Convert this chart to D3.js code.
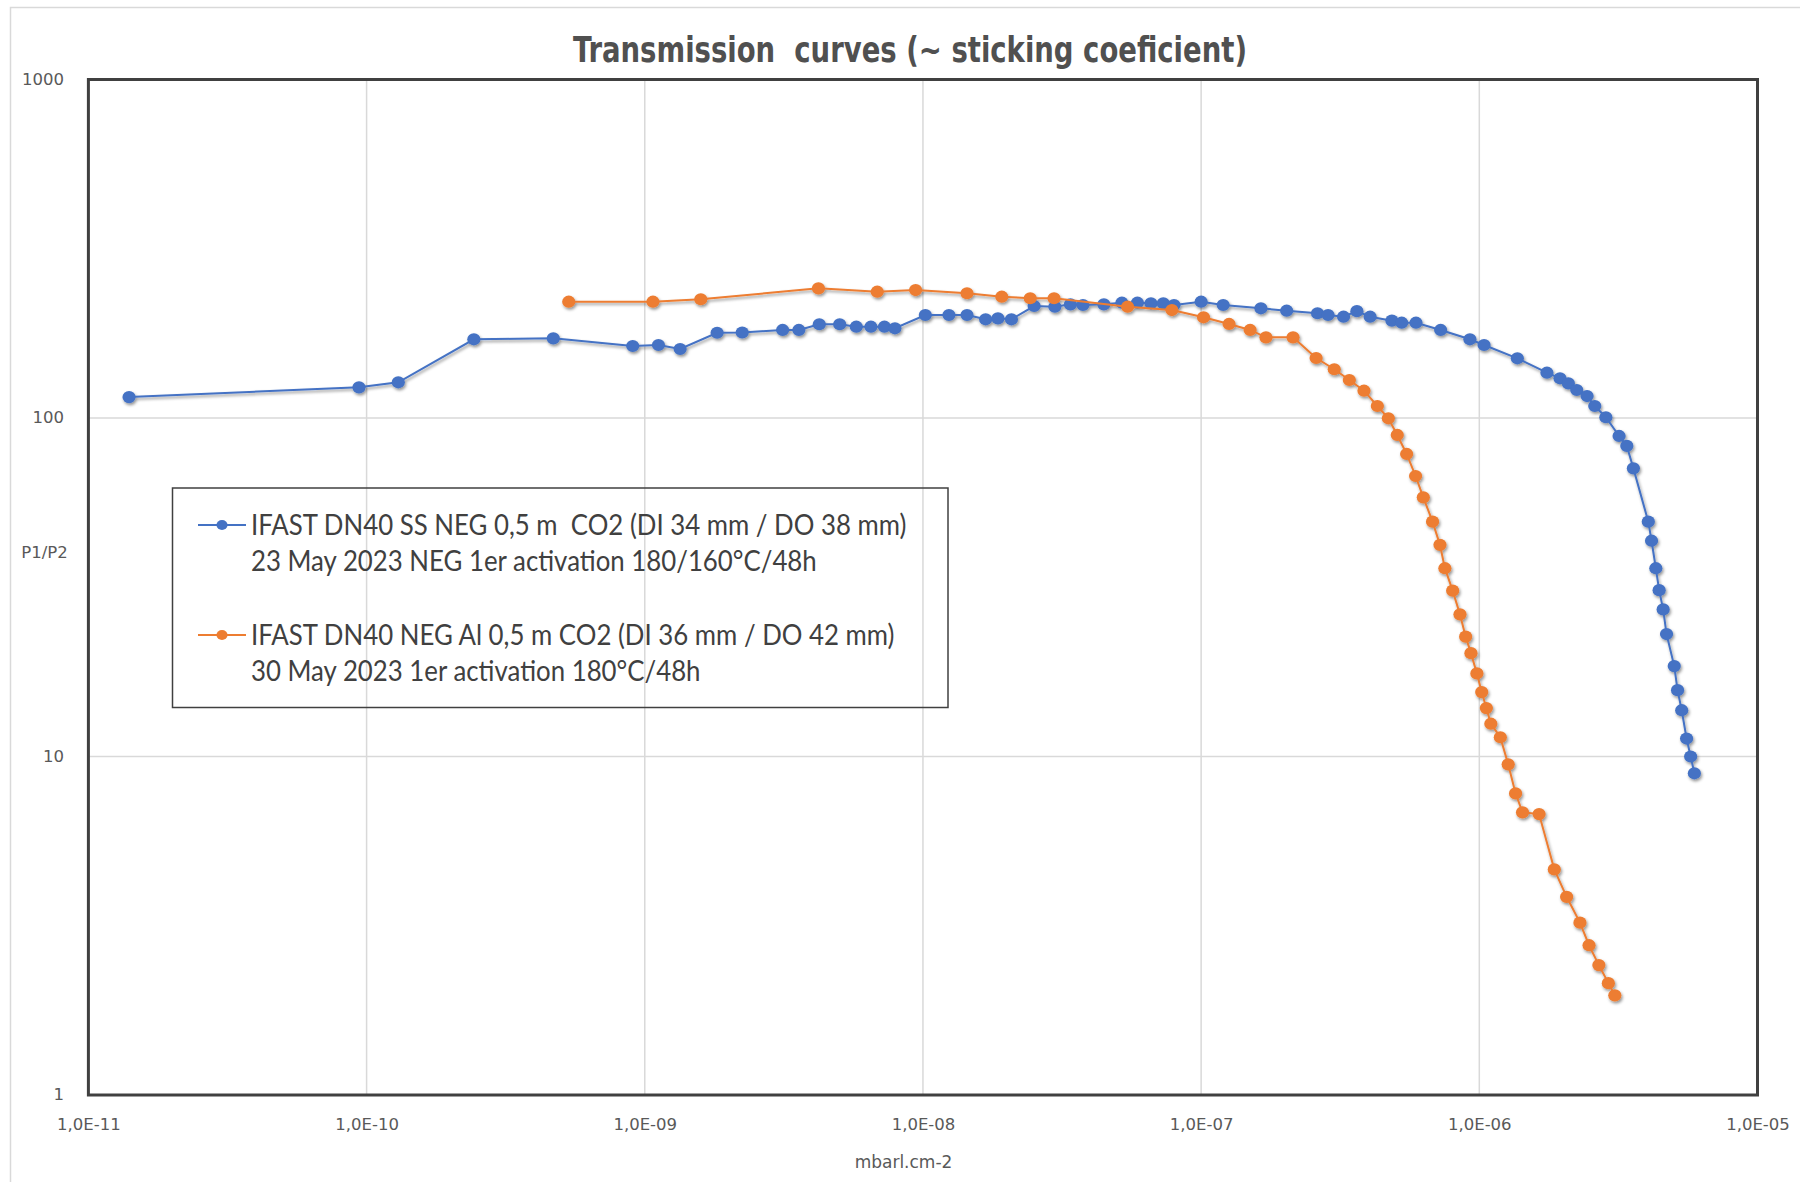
<!DOCTYPE html>
<html>
<head>
<meta charset="utf-8">
<script src="https://cdn.jsdelivr.net/npm/d3@7"></script>
<style>
  html, body { margin: 0; padding: 0; background: #ffffff; }
  svg { display: block; }
</style>
</head>
<body>
<svg id="chart" width="1800" height="1182"></svg>
<script>
// ---- data -------------------------------------------------------------
const titleText = "Transmission  curves (~ sticking coeficient)";
const xAxisTitle = "mbarl.cm-2";
const yAxisTitle = "P1/P2";

const xTicks = [1e-11, 1e-10, 1e-9, 1e-8, 1e-7, 1e-6, 1e-5];
const xTickLabels = ["1,0E-11", "1,0E-10", "1,0E-09", "1,0E-08", "1,0E-07", "1,0E-06", "1,0E-05"];
const yTicks = [1, 10, 100, 1000];
const yTickLabels = ["1", "10", "100", "1000"];

const seriesNames = ["ssNeg", "alNeg"];
const legendLines = [
  ["IFAST DN40 SS NEG 0,5 m  CO2 (DI 34 mm / DO 38 mm)", "23 May 2023 NEG 1er activation 180/160°C/48h"],
  ["IFAST DN40 NEG Al 0,5 m CO2 (DI 36 mm / DO 42 mm)", "30 May 2023 1er activation 180°C/48h"]
];
const seriesColors = ["#4472C4", "#ED7D31"];

// SS NEG tube: injected quantity (mbar.l.cm-2) and P1/P2
const ssNegX = [1.40e-11, 9.39e-11, 1.30e-10, 2.43e-10, 4.69e-10, 9.05e-10, 1.12e-9, 1.34e-9,
  1.82e-9, 2.24e-9, 3.13e-9, 3.58e-9, 4.24e-9, 5.02e-9, 5.76e-9, 6.50e-9, 7.27e-9, 7.93e-9,
  1.02e-8, 1.24e-8, 1.44e-8, 1.68e-8, 1.86e-8, 2.08e-8, 2.51e-8, 2.98e-8, 3.39e-8, 3.76e-8,
  4.47e-8, 5.19e-8, 5.90e-8, 6.60e-8, 7.31e-8, 7.99e-8, 1.00e-7, 1.20e-7, 1.64e-7, 2.03e-7,
  2.62e-7, 2.86e-7, 3.25e-7, 3.63e-7, 4.05e-7, 4.85e-7, 5.26e-7, 5.92e-7, 7.26e-7, 9.25e-7,
  1.04e-6, 1.37e-6, 1.75e-6, 1.95e-6, 2.09e-6, 2.24e-6, 2.44e-6, 2.60e-6, 2.85e-6, 3.18e-6,
  3.39e-6, 3.58e-6, 4.05e-6, 4.16e-6, 4.31e-6, 4.43e-6, 4.58e-6, 4.71e-6, 5.02e-6, 5.16e-6,
  5.34e-6, 5.56e-6, 5.75e-6, 5.93e-6];
const ssNegY = [115.3, 123.2, 127.5, 170.8, 171.9, 163.2, 164.3, 159.9,
  178.6, 178.9, 182.0, 182.0, 189.2, 189.2, 186.1, 186.1, 186.1, 184.1,
  201.5, 201.5, 201.5, 195.7, 197.0, 195.7, 214.2, 213.2, 216.7, 215.7,
  216.7, 219.1, 219.1, 218.2, 218.2, 215.7, 220.6, 215.7, 210.9, 207.5,
  203.9, 201.5, 199.2, 206.8, 199.2, 193.9, 191.2, 191.2, 182.0, 170.8,
  164.3, 150.1, 136.1, 131.0, 126.6, 121.0, 116.1, 108.5, 100.5, 88.5,
  82.7, 71.0, 49.4, 43.4, 36.0, 31.0, 27.2, 23.0, 18.5, 15.7,
  13.7, 11.3, 10.0, 8.92];

// Al NEG tube
const alNegX = [5.33e-10, 1.07e-9, 1.59e-9, 4.21e-9, 6.85e-9, 9.41e-9, 1.44e-8, 1.92e-8,
  2.43e-8, 2.96e-8, 5.44e-8, 7.85e-8, 1.02e-7, 1.26e-7, 1.50e-7, 1.71e-7, 2.14e-7, 2.59e-7,
  3.01e-7, 3.41e-7, 3.85e-7, 4.30e-7, 4.71e-7, 5.07e-7, 5.48e-7, 5.90e-7, 6.29e-7, 6.79e-7,
  7.22e-7, 7.52e-7, 8.02e-7, 8.52e-7, 8.93e-7, 9.33e-7, 9.80e-7, 1.02e-6, 1.06e-6, 1.10e-6,
  1.19e-6, 1.27e-6, 1.35e-6, 1.43e-6, 1.64e-6, 1.86e-6, 2.06e-6, 2.30e-6, 2.48e-6, 2.69e-6,
  2.91e-6, 3.07e-6];
const alNegY = [220.6, 220.6, 224.3, 241.6, 236.1, 238.8, 233.6, 228.2,
  225.8, 225.8, 213.2, 208.4, 198.4, 189.6, 182.0, 173.1, 173.1, 150.4,
  139.3, 129.5, 120.4, 108.5, 99.8, 89.1, 78.3, 67.4, 58.3, 49.4,
  42.2, 36.0, 30.9, 26.3, 22.6, 20.2, 17.6, 15.5, 13.9, 12.5,
  11.4, 9.48, 7.78, 6.84, 6.76, 4.64, 3.85, 3.23, 2.77, 2.42,
  2.14, 1.97];

// ---- layout -----------------------------------------------------------
const W = 1800, H = 1182;
const plot = { left: 88.4, right: 1757.5, top: 79.5, bottom: 1095 };
const labelFont = "'DejaVu Sans', Verdana, sans-serif";
const textGrey = "#595959";

const svg = d3.select("#chart");

const x = d3.scaleLog().domain([1e-11, 1e-5]).range([plot.left, plot.right]);
const y = d3.scaleLog().domain([1, 1000]).range([plot.bottom, plot.top]);

// soft shadow used by Excel-style markers
const defs = svg.append("defs");
const shadow = defs.append("filter").attr("id", "markShadow")
  .attr("x", "-50%").attr("y", "-50%").attr("width", "200%").attr("height", "200%");
shadow.append("feDropShadow").attr("dx", 1.2).attr("dy", 2).attr("stdDeviation", 1.5)
  .attr("flood-color", "#000").attr("flood-opacity", 0.42);

// chart frame
svg.append("rect").attr("x", 10.5).attr("y", 7.5).attr("width", W + 20).attr("height", H + 20)
  .attr("fill", "#ffffff").attr("stroke", "#d9d9d9").attr("stroke-width", 1.5);

// gridlines
const grid = svg.append("g").attr("stroke", "#d9d9d9").attr("stroke-width", 1.5);
grid.selectAll("line.gx").data(xTicks.slice(1, -1)).join("line")
  .attr("x1", d => x(d)).attr("x2", d => x(d)).attr("y1", plot.top).attr("y2", plot.bottom);
grid.selectAll("line.gy").data(yTicks.slice(1, -1)).join("line")
  .attr("y1", d => y(d)).attr("y2", d => y(d)).attr("x1", plot.left).attr("x2", plot.right);

// axes (labels only, lines come from the plot frame)
const xAxis = d3.axisBottom(x).tickValues(xTicks)
  .tickFormat((d, i) => xTickLabels[i]).tickSize(0).tickPadding(0);
const gx = svg.append("g").attr("transform", `translate(0,${plot.bottom})`).call(xAxis);
gx.select(".domain").remove();
gx.selectAll("text").attr("font-family", labelFont).attr("font-size", 16.5)
  .attr("fill", textGrey).attr("dy", null).attr("y", 35);

const yAxis = d3.axisLeft(y).tickValues(yTicks)
  .tickFormat((d, i) => yTickLabels[i]).tickSize(0).tickPadding(0);
const gy = svg.append("g").attr("transform", `translate(64,0)`).call(yAxis);
gy.select(".domain").remove();
gy.selectAll("text").attr("font-family", labelFont).attr("font-size", 16.5)
  .attr("fill", textGrey).attr("x", 0).attr("dy", "0.3em");

// plot frame
svg.append("rect").attr("x", plot.left).attr("y", plot.top)
  .attr("width", plot.right - plot.left).attr("height", plot.bottom - plot.top)
  .attr("fill", "none").attr("stroke", "#404040").attr("stroke-width", 3);

// axis titles
svg.append("text").attr("x", 44.5).attr("y", 552.5).attr("dy", "0.36em")
  .attr("text-anchor", "middle").attr("font-family", labelFont).attr("font-size", 16.5)
  .attr("fill", textGrey).text(yAxisTitle);
svg.append("text").attr("x", 903.5).attr("y", 1162).attr("dy", "0.36em")
  .attr("text-anchor", "middle").attr("font-family", labelFont).attr("font-size", 17)
  .attr("fill", textGrey).text(xAxisTitle);

// chart title, sized to its measured span and stretched slightly upward
const titleBase = 62;
const title = svg.append("text").attr("x", 910).attr("y", titleBase)
  .attr("text-anchor", "middle")
  .attr("transform", `translate(0,${titleBase}) scale(1,1.14) translate(0,${-titleBase})`)
  .attr("font-family", "'Liberation Sans Narrow', 'DejaVu Sans Condensed', sans-serif")
  .attr("font-weight", "bold").attr("font-size", 33).attr("fill", "#505050")
  .style("white-space", "pre").attr("xml:space", "preserve").text(titleText);
{
  const w = title.node().getComputedTextLength();
  title.attr("font-size", 33 * 674 / w);
}

// series
const seriesData = [
  d3.zip(ssNegX, ssNegY),
  d3.zip(alNegX, alNegY)
];
const line = d3.line().x(d => x(d[0])).y(d => y(d[1]));

const series = svg.append("g").attr("filter", "url(#markShadow)");
seriesData.forEach((pts, i) => {
  const g = series.append("g").attr("class", seriesNames[i]);
  g.append("path").datum(pts).attr("d", line)
    .attr("fill", "none").attr("stroke", seriesColors[i]).attr("stroke-width", 2);
  g.selectAll("ellipse").data(pts).join("ellipse")
    .attr("cx", d => x(d[0])).attr("cy", d => y(d[1]))
    .attr("rx", 6.6).attr("ry", 6.1).attr("fill", seriesColors[i]);
});

// legend
const legend = svg.append("g");
legend.append("rect").attr("x", 172.5).attr("y", 488).attr("width", 775.5).attr("height", 219.5)
  .attr("fill", "none").attr("stroke", "#404040").attr("stroke-width", 1.5);
const legendRows = [525, 635];
const rowGap = 36;
const legendFont = "Lato, 'Open Sans', sans-serif";
const legendTexts = [];
legendLines.forEach((lines, i) => {
  const ly = legendRows[i];
  legend.append("line").attr("x1", 198).attr("x2", 246).attr("y1", ly).attr("y2", ly)
    .attr("stroke", seriesColors[i]).attr("stroke-width", 2);
  legend.append("ellipse").attr("cx", 222).attr("cy", ly).attr("rx", 5.5).attr("ry", 5)
    .attr("fill", seriesColors[i]);
  lines.forEach((t, j) => {
    const tx = legend.append("text").attr("x", 251).attr("y", ly + j * rowGap)
      .attr("dy", "0.36em").attr("font-family", legendFont).attr("font-size", 23)
      .attr("fill", "#404040").style("white-space", "pre").attr("xml:space", "preserve").text(t);
    tx.attr("transform", `translate(0,${ly + j * rowGap}) scale(1,1.1) translate(0,${-(ly + j * rowGap)})`);
    legendTexts.push(tx);
  });
});
{
  const w = legendTexts[0].node().getComputedTextLength();
  const fs = 23 * 655 / w;
  legendTexts.forEach(t => t.attr("font-size", fs));
}
</script>
</body>
</html>
